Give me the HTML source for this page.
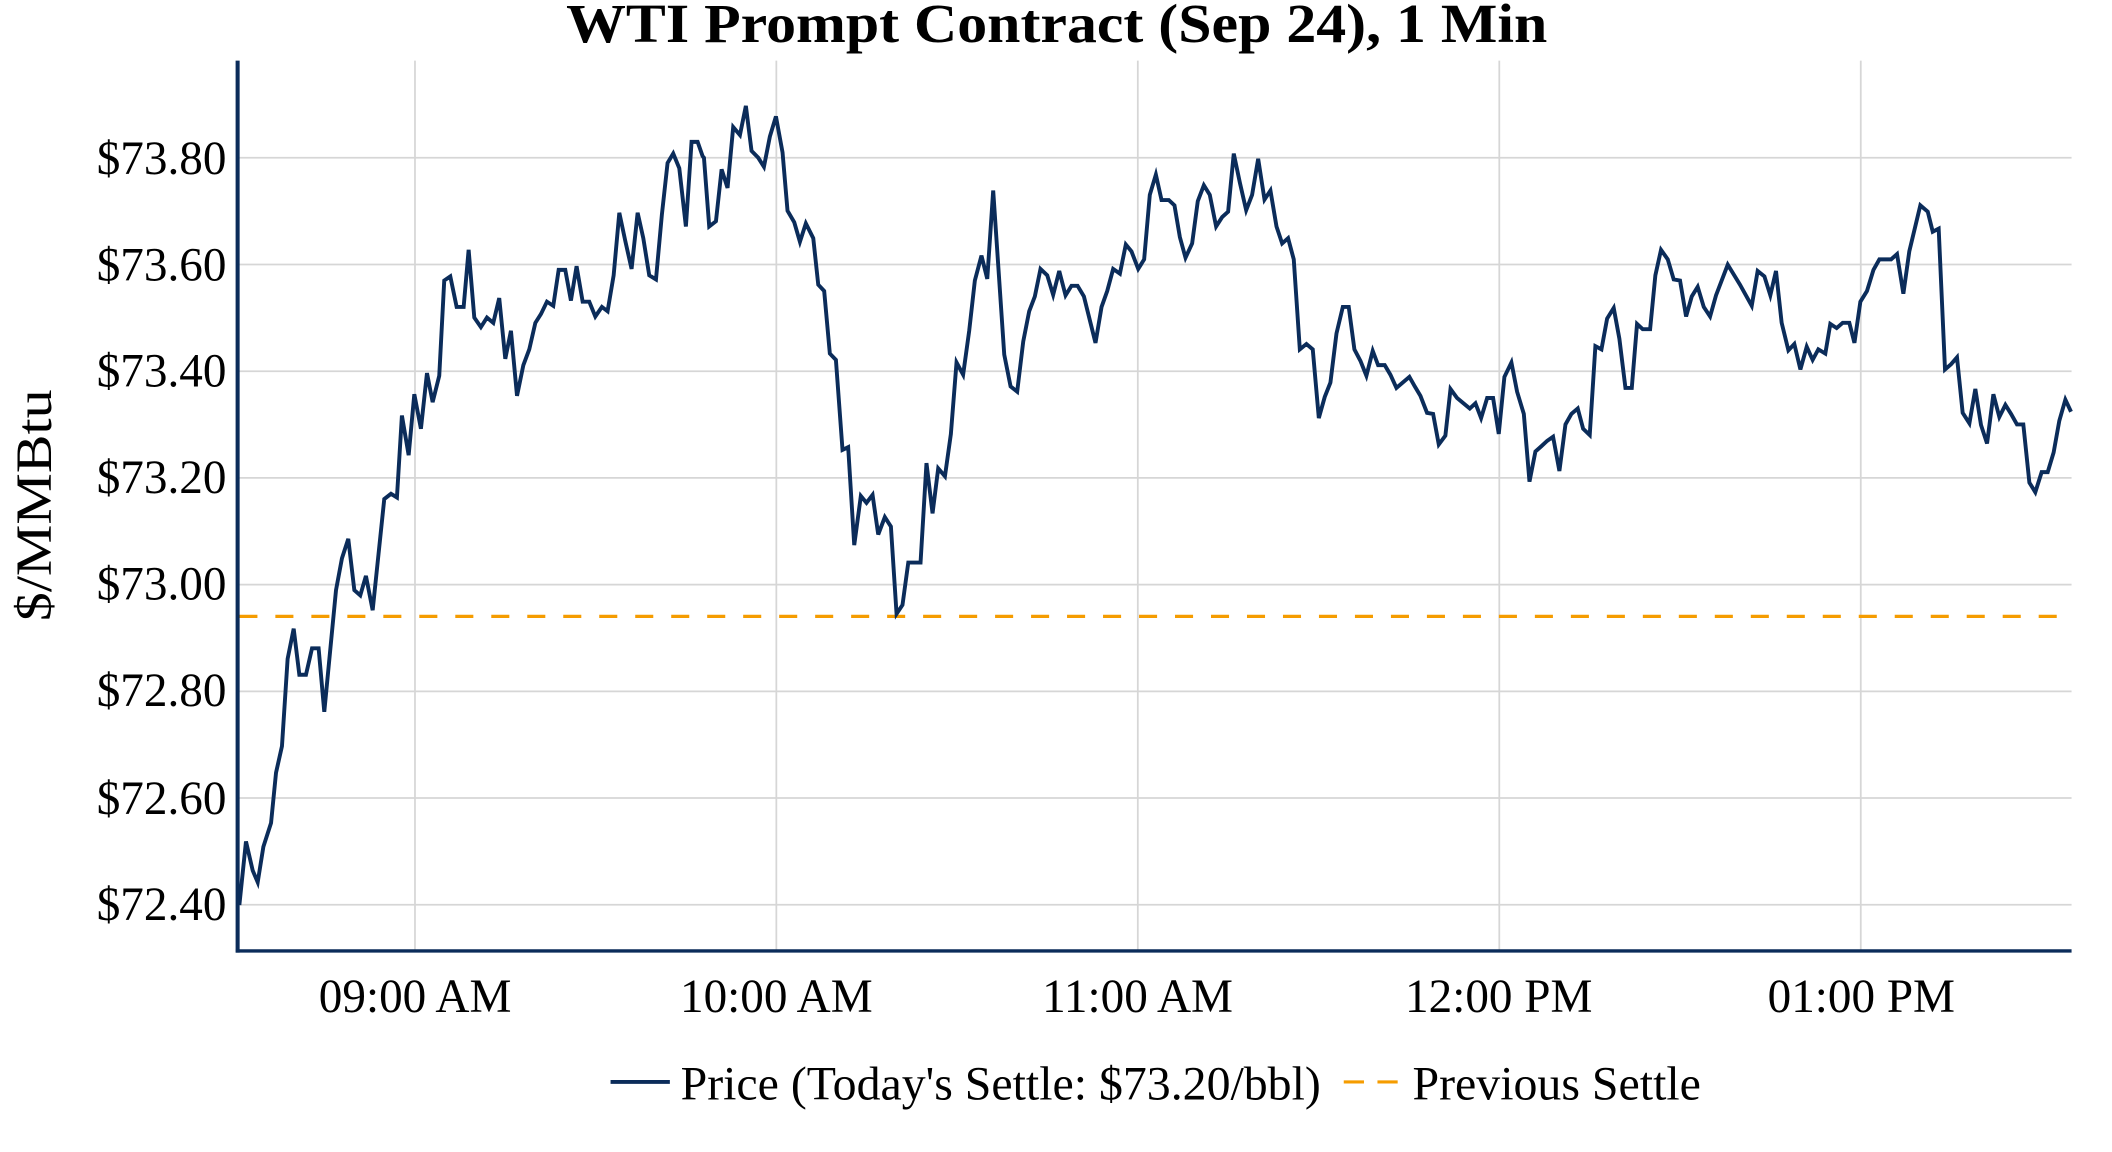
<!DOCTYPE html>
<html><head><meta charset="utf-8"><style>
html,body{margin:0;padding:0;background:#fff;}
svg{display:block;}
text{font-family:"Liberation Serif","DejaVu Serif",serif;fill:#000;}
</style></head><body>
<svg width="2112" height="1152" viewBox="0 0 1567 855" preserveAspectRatio="none" xmlns="http://www.w3.org/2000/svg">
<rect width="1567" height="855" fill="#fff"/>
<g stroke="#d6d6d6" stroke-width="1.3">
<line x1="176" x2="1537" y1="117.1" y2="117.1"/>
<line x1="176" x2="1537" y1="196.3" y2="196.3"/>
<line x1="176" x2="1537" y1="275.5" y2="275.5"/>
<line x1="176" x2="1537" y1="354.7" y2="354.7"/>
<line x1="176" x2="1537" y1="433.9" y2="433.9"/>
<line x1="176" x2="1537" y1="513.1" y2="513.1"/>
<line x1="176" x2="1537" y1="592.3" y2="592.3"/>
<line x1="176" x2="1537" y1="671.5" y2="671.5"/>
<line y1="45" y2="705" x1="307.9" x2="307.9"/>
<line y1="45" y2="705" x1="576" x2="576"/>
<line y1="45" y2="705" x1="844.2" x2="844.2"/>
<line y1="45" y2="705" x1="1112.4" x2="1112.4"/>
<line y1="45" y2="705" x1="1380.6" x2="1380.6"/>
</g>
<line x1="177.6" x2="1527" y1="457.5" y2="457.5" stroke="#f59c00" stroke-width="2.4" stroke-dasharray="13.4 13.3"/>
<polyline fill="none" stroke="#0b2c5a" stroke-width="2.9" stroke-linejoin="miter" points="
177.6,671.7 182.5,624.5 187.5,646.1 191.2,654.8 195.4,628.5 201.1,610.8 204.8,573.5 209.2,553.8 213.4,489 217.9,466.6 222.1,500.8 227,500.8 231.5,481.2 236.4,481.2 240.6,528.3 249.3,438 253.7,414.4 258.4,399.9 262.9,438 267.3,441.9 271.5,427.4 276.5,452.9 285.1,370.4 290.1,366.5 294.5,369.2 298.2,308.4 303.2,337.8 307.4,292.6 312.3,318.2 316.8,276.9 321,298.5 325.9,278.9 329.6,208.2 334.1,205.1 338.8,227.8 344,227.8 347.7,185.4 351.9,235.7 356.8,242.8 361.3,235.7 366,239.6 370.4,221.2 374.9,266.3 379.1,245.5 383.6,293.8 388.3,271 392.7,259.3 397.2,239.6 401.4,233 405.8,223.9 410.5,227 414.5,200.3 419.4,200.3 423.6,223.1 427.8,197.6 432.3,223.9 437.2,223.9 441.7,234.9 446.6,227.8 450.8,231 455.3,204.3 459.5,157.9 463.9,178.7 468.6,199.6 473.1,157.9 477.3,176.8 481.7,204.3 486.7,207.4 491.1,159.1 495.3,121 499.5,113.9 504,124.9 508.9,168.1 513.1,105.3 517.6,105.3 521.3,115.9
522.3,117.1 526.2,168.1 531.2,164.2 535.4,125.7 539.8,139.5 544,94.3 549,100.2 553.4,78.6 557.6,112 562.6,117.1 566.8,123.8 571.2,101.4 575.7,86.4 580.6,113.1 584.3,156.4 589.3,165 593.5,179.5 597.9,165.8 603.4,176.8 607.1,211.3 611.5,216 615.7,262.4 620.2,267.1 625.1,333.9 629.3,331.9 633.8,404.6 638.7,368.1 642.9,373.2 647.4,367.3 651.6,396.7 656.5,383.8 661,390.8 665.2,455.6 669.6,449 673.9,417.5 683,417.5 687.4,343.7 691.9,381 696.1,347.6 701.1,353.5 705.5,322.1 709.7,269 714.6,278.1 719.1,245.5 723.3,208.2 728.2,189.7 732.5,207 736.9,141.4 740.6,196.4 745.1,263.2 749.8,286.8 754.7,290.7 759.2,253.4 763.6,231 767.8,220 772,199.6 777,204.3 781.4,218.8 785.9,201.1 790.6,219.2 795,212.1 799.5,212.1 804.2,220 812.8,254.5 817.3,227.8 821.5,216 825.9,199.6 830.9,203.1 835.3,181.5 839.5,186.6 844.5,199.6 848.9,192.5 853.1,144.6 857.6,129.6 861.8,148.5 867.2,148.5
871.4,152.4 875.4,176 879.6,191.3 884.5,180.7 888.7,149.3 893.2,137.5 897.6,144.6 902.3,168.1 906.8,161.1 911.2,157.1 915.4,114 919.9,135.5 924.6,156 929,144.6 933.5,117.9 938.2,148.1 942.6,141.4 947.1,168.1 951.3,180.7 955.7,176.8 959.9,192.5 964.4,259.3 969.3,255.3 974,259.3 978.5,310.3 982.9,294.6 987.1,284 991.6,247.5 996.3,227.8 1000.7,227.8 1004.9,259.3 1009.4,267.9 1013.8,278.9 1018.5,260.4 1022.5,271 1027.4,271 1031.6,278.1 1036.1,287.9 1045.7,279.7 1049.7,286.8 1053.9,293.8 1058.8,306.4 1063.3,307.2 1067.5,329.9 1072.4,323.3 1076.2,288.7 1081.1,295.4 1090.5,303.2 1094.7,299.3 1098.9,310.3 1103.4,295.4 1107.8,295.4 1112,322.1 1116.2,279.7 1121.4,269 1125.6,290.7 1130.6,307.2 1134.8,357.5 1139.2,335.1 1143.7,331.1 1147.9,327.2 1152.3,324.1 1157,349.6 1161.5,315 1165.9,307.2 1170.6,303.2 1174.6,318.2 1179.5,322.9 1183.7,256.9 1188.2,259.3 1192.4,236.5 1197.3,228.6 1201.5,251.4 1206,287.9 1210.7,287.9
1214.6,240.4 1218.8,244.3 1224.3,244.3 1228.2,204.3 1232.4,185.4 1237.4,192.5 1241.8,207.4 1246.5,208.2 1251,234.9 1255.2,220 1259.6,212.9 1264.1,227.8 1268.8,234.9 1273.2,219.2 1281.9,196.4 1291,211.3 1299.7,227 1304.1,201.1 1309.1,205.1 1313.5,219.2 1317.7,201.1 1321.9,239.6 1326.9,260 1331.3,255.3 1335.8,274.2 1340.5,257.3 1344.9,267.1 1349.1,259.3 1354.3,262.4 1358,240.4 1362.7,243.5 1367.2,239.6 1372.1,239.6 1375.9,254.5 1380.3,223.9 1385.2,216 1390,200.3 1394.4,192.5 1403.1,192.5 1407.5,188.6 1412.2,218 1416.6,186.6 1424.8,152.4 1430.3,157.1 1434,172 1438.4,169.7 1443.1,274.2 1447.6,270.3 1452,265.2 1456.2,306.4 1461.2,314.2 1465.6,288.7 1469.8,315.4 1474.3,329.2 1479,292.6 1483.4,309.5 1487.9,300.5 1492.1,307.2 1496.5,315 1501.2,315 1505.7,358.2 1510.1,365.3 1514.8,350.4 1519.3,350.4 1523.7,335.8 1527.9,312.3 1532.4,296.6 1536.6,305.6"/>
<line x1="176.3" x2="176.3" y1="45" y2="707" stroke="#0b2c5a" stroke-width="3"/>
<line x1="175" x2="1537" y1="705.8" y2="705.8" stroke="#0b2c5a" stroke-width="2.5"/>
<text x="784" y="31" text-anchor="middle" font-size="41" font-weight="bold" textLength="728" lengthAdjust="spacingAndGlyphs">WTI Prompt Contract (Sep 24), 1 Min</text>
<g font-size="35" text-anchor="end">
<text x="168" y="129">$73.80</text>
<text x="168" y="208">$73.60</text>
<text x="168" y="287">$73.40</text>
<text x="168" y="366">$73.20</text>
<text x="168" y="445">$73.00</text>
<text x="168" y="524">$72.80</text>
<text x="168" y="604">$72.60</text>
<text x="168" y="683">$72.40</text>
</g>
<g font-size="35" text-anchor="middle">
<text x="308" y="751">09:00 AM</text>
<text x="576" y="751">10:00 AM</text>
<text x="844" y="751">11:00 AM</text>
<text x="1112" y="751">12:00 PM</text>
<text x="1381" y="751">01:00 PM</text>
</g>
<text transform="translate(38,375) rotate(-90)" text-anchor="middle" font-size="38" textLength="172" lengthAdjust="spacingAndGlyphs">$/MMBtu</text>
<line x1="453" x2="497" y1="803" y2="803" stroke="#0b2c5a" stroke-width="2.9"/>
<text x="505" y="816" font-size="35" textLength="475" lengthAdjust="spacingAndGlyphs">Price (Today's Settle: $73.20/bbl)</text>
<line x1="997" x2="1037" y1="803" y2="803" stroke="#f59c00" stroke-width="2.4" stroke-dasharray="15 10"/>
<text x="1048" y="816" font-size="35" textLength="214" lengthAdjust="spacingAndGlyphs">Previous Settle</text>
</svg>
</body></html>
